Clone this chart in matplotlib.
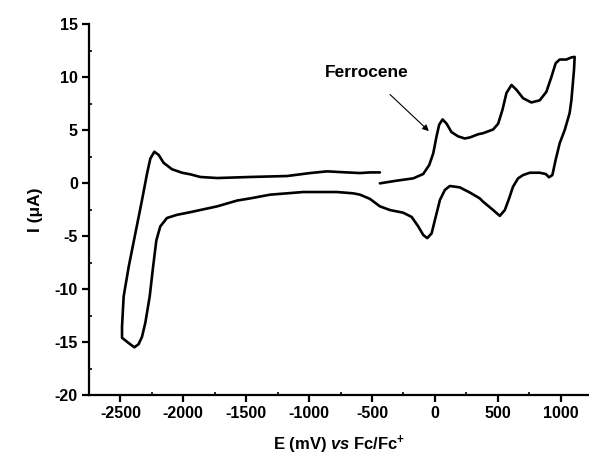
import matplotlib
matplotlib.use("Agg")
import matplotlib.pyplot as plt
from matplotlib.ticker import MultipleLocator

plt.rcParams['font.family'] = ['Liberation Sans', 'DejaVu Sans']
plt.rcParams['font.weight'] = 'bold'
plt.rcParams['axes.unicode_minus'] = False
plt.rcParams['mathtext.fontset'] = 'custom'
plt.rcParams['mathtext.it'] = 'Liberation Sans:italic:bold'
plt.rcParams['mathtext.bf'] = 'Liberation Sans:bold'
plt.rcParams['mathtext.rm'] = 'Liberation Sans:bold'

# Cyclic voltammogram, traced in scan order (mV, uA)
E_mV = [-437, -304, -172, -93, -45, -13, 13, 34, 61, 93, 132, 185, 238, 278, 344, 383, 463,
        503, 537, 569, 609, 648, 701, 767, 833, 886, 926, 960, 992, 1045, 1085, 1111,
        1106, 1085, 1071, 1032, 992, 960, 934, 907, 881, 833, 754, 701, 661, 621, 590, 556,
        516, 463, 383, 357, 278, 198, 119, 79, 40, 0, -26, -61, -93, -132, -185, -252, -357,
        -437, -516, -595, -651, -778, -1048, -1310, -1468, -1571, -1730, -1944, -2050,
        -2130, -2183, -2214, -2240, -2267, -2302, -2328, -2355, -2389, -2434, -2487,
        -2487, -2474, -2434, -2381, -2328, -2288, -2262, -2230, -2196, -2156, -2090, -2010,
        -1944, -1865, -1730, -1468, -1175, -992, -857, -700, -595, -516, -437]
I_uA = [-0.03, 0.22, 0.44, 0.85, 1.7, 2.8, 4.4, 5.5, 6.0, 5.6, 4.8, 4.4, 4.2, 4.3, 4.6, 4.7, 5.05,
        5.6, 6.9, 8.5, 9.25, 8.8, 8.0, 7.6, 7.8, 8.6, 10.0, 11.3, 11.65, 11.65, 11.85, 11.9,
        10.7, 7.8, 6.6, 5.0, 3.75, 2.2, 0.75, 0.54, 0.85, 0.97, 0.97, 0.75, 0.44, -0.35, -1.45,
        -2.55, -3.1, -2.55, -1.76, -1.45, -0.9, -0.41, -0.28, -0.66, -1.6, -3.5, -4.75, -5.2,
        -4.9, -4.1, -3.2, -2.8, -2.55, -2.2, -1.5, -1.1, -0.97, -0.85, -0.85, -1.1, -1.45,
        -1.65, -2.2, -2.75, -3.0, -3.3, -4.1, -5.4, -7.9, -10.7, -13.2, -14.5, -15.2, -15.5,
        -15.1, -14.6,
        -13.55, -10.7, -7.9, -4.75, -1.6, 0.9, 2.3, 2.95, 2.65, 1.9, 1.3, 0.97, 0.82, 0.57,
        0.47, 0.57, 0.66, 0.94, 1.1, 1.0, 0.94, 1.0, 1.0]

x_ticks = [-2500, -2000, -1500, -1000, -500, 0, 500, 1000]
y_ticks = [-20, -15, -10, -5, 0, 5, 10, 15]

fig = plt.figure(figsize=(5.89, 4.62), dpi=100)
ax = fig.add_axes([0.151, 0.145, 0.849, 0.803])
ax.plot(E_mV, I_uA, color='black', lw=1.9, solid_joinstyle='round', solid_capstyle='round')

ax.set_xlim(-2750, 1225)
ax.set_ylim(-20, 15)
ax.set_xticks(x_ticks)
ax.set_yticks(y_ticks)
ax.xaxis.set_minor_locator(MultipleLocator(250))
ax.yaxis.set_minor_locator(MultipleLocator(2.5))
for s in ['top', 'right']:
    ax.spines[s].set_visible(False)
for s in ['left', 'bottom']:
    ax.spines[s].set_linewidth(1.6)
ax.tick_params(which='major', direction='out', length=5, width=1.6, labelsize=11.5, pad=3)
ax.tick_params(which='minor', direction='in', length=2.5, width=1.2)
for lab in ax.get_xticklabels() + ax.get_yticklabels():
    lab.set_fontweight('bold')

ax.set_xlabel(r'E (mV) $\mathit{vs}$ Fc/Fc$^{\mathbf{+}}$', fontsize=12, fontweight='bold', labelpad=9)
ax.set_ylabel('I (\u03bcA)', fontsize=12.5, fontweight='bold', labelpad=8)

ax.annotate('Ferrocene', xy=(-48, 4.9), xytext=(-540, 10.4), fontsize=12.5, fontweight='bold',
            ha='center', va='center',
            arrowprops=dict(arrowstyle='-|>', color='black', lw=0.8, mutation_scale=9,
                            shrinkA=12, shrinkB=0))

fig.savefig('out.png', dpi=100)
